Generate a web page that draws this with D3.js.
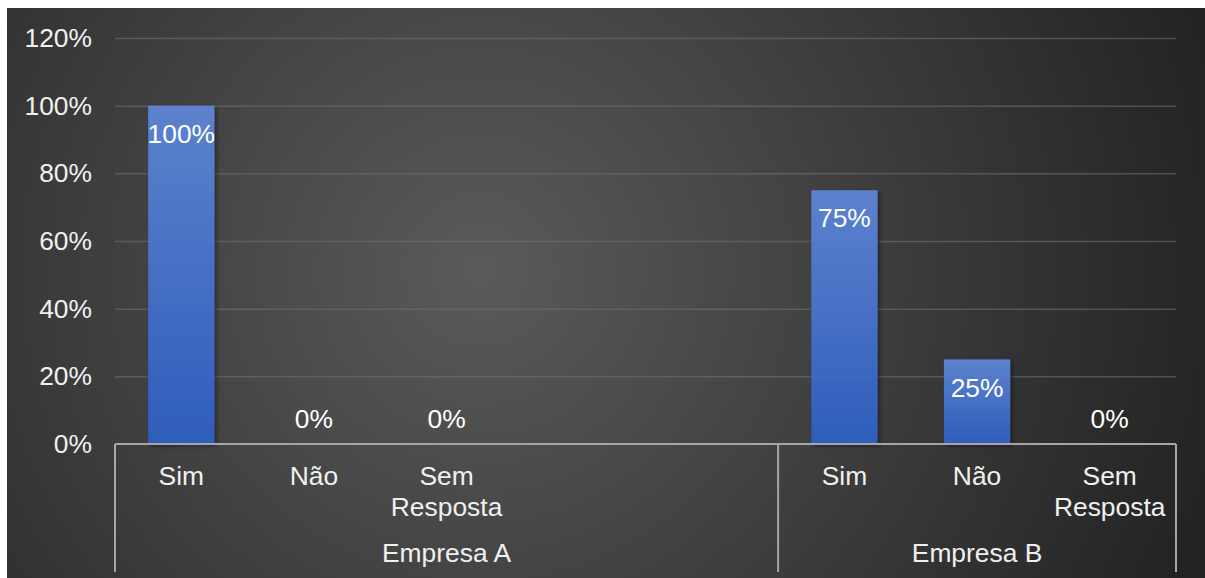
<!DOCTYPE html>
<html>
<head>
<meta charset="utf-8">
<script src="https://cdn.jsdelivr.net/npm/d3@7"></script>
<style>
    body { margin: 0; background: #ffffff; }
    svg { display: block; font-family: "Liberation Sans", Arial, sans-serif; }
</style>
</head>
<body>
<div id="chart"></div>
<script>
// categories along the x axis (two blank slots close out Empresa A)
const categories = ["Sim", "Não", "Sem Resposta", "", "", "Sim", "Não", "Sem Resposta"];
const groups = ["Empresa A", "Empresa B"];
const groupSizes = [5, 3];
const values = [1.00, 0.00, 0.00, null, null, 0.75, 0.25, 0.00];
const yTicks = [0, 0.2, 0.4, 0.6, 0.8, 1.0, 1.2];

const W = 1205, H = 578;
const plot = {left: 115, right: 1176, top: 38, bottom: 444};
const fontSize = 26.4;

let svg = d3.select("#chart").append("svg")
    .attr("width", W)
    .attr("height", H);

let defs = svg.append("defs");

// dark radial background
let bg = defs.append("radialGradient")
    .attr("id", "bg")
    .attr("gradientUnits", "userSpaceOnUse")
    .attr("cx", 480).attr("cy", 270).attr("r", 760);
bg.append("stop").attr("offset", "0%").attr("stop-color", "#5a5a5a");
bg.append("stop").attr("offset", "100%").attr("stop-color", "#232323");

// bar fill, light at the top
let barGrad = defs.append("linearGradient")
    .attr("id", "barGrad")
    .attr("x1", 0).attr("y1", 0).attr("x2", 0).attr("y2", 1);
barGrad.append("stop").attr("offset", "0%").attr("stop-color", "#5d82cd");
barGrad.append("stop").attr("offset", "100%").attr("stop-color", "#2e5dbb");

let shadow = defs.append("filter").attr("id", "shadow")
    .attr("x", "-20%").attr("y", "-20%").attr("width", "150%").attr("height", "150%");
shadow.append("feDropShadow")
    .attr("dx", 2).attr("dy", 2).attr("stdDeviation", 2)
    .attr("flood-color", "#000").attr("flood-opacity", 0.45);

svg.append("rect")
    .attr("x", 7).attr("y", 8)
    .attr("width", W - 7).attr("height", H - 8)
    .attr("fill", "url(#bg)");

// scales
let x = d3.scaleBand()
    .domain(d3.range(categories.length))
    .range([plot.left, plot.right])
    .paddingInner(0.5)
    .paddingOuter(0.25);

let y = d3.scaleLinear()
    .domain([0, 1.2])
    .range([plot.bottom, plot.top]);

let pct = d3.format(".0%");

// gridlines
let grid = svg.append("g")
    .attr("class", "grid")
    .attr("transform", `translate(${plot.left},0)`)
    .call(d3.axisLeft(y).tickValues(yTicks.slice(1)).tickSize(-(plot.right - plot.left)).tickFormat(""));
grid.select(".domain").remove();
grid.selectAll("line")
    .attr("stroke", "#727272")
    .attr("stroke-opacity", 0.55)
    .attr("stroke-width", 1.5);

// y axis labels
let yAxis = svg.append("g")
    .attr("class", "y-axis")
    .attr("transform", `translate(${plot.left - 23},0)`)
    .call(d3.axisLeft(y).tickValues(yTicks).tickSize(0).tickPadding(0).tickFormat(pct));
yAxis.select(".domain").remove();
yAxis.selectAll("text")
    .attr("fill", "#f0f0f0")
    .attr("font-size", fontSize)
    .attr("font-family", "Liberation Sans, Arial, sans-serif");

// bars
let data = values.map((v, i) => ({i: i, v: v})).filter(d => d.v !== null);

svg.selectAll(".bar")
    .data(data.filter(d => d.v > 0))
    .enter().append("rect")
    .attr("class", "bar")
    .attr("x", d => x(d.i))
    .attr("y", d => y(d.v))
    .attr("width", x.bandwidth())
    .attr("height", d => y(0) - y(d.v))
    .attr("fill", "url(#barGrad)")
    .attr("filter", "url(#shadow)");

// data labels
svg.selectAll(".label")
    .data(data)
    .enter().append("text")
    .attr("class", "label")
    .attr("x", d => x(d.i) + x.bandwidth() / 2)
    .attr("y", d => d.v > 0 ? y(d.v) + 28 : y(0) - 25)
    .attr("dy", "0.35em")
    .attr("text-anchor", "middle")
    .attr("fill", "#ffffff")
    .attr("font-size", fontSize)
    .text(d => pct(d.v));

// x axis line
svg.append("line")
    .attr("x1", plot.left).attr("x2", plot.right)
    .attr("y1", y(0)).attr("y2", y(0))
    .attr("stroke", "#a6a6a6")
    .attr("stroke-width", 2);

// category labels (wrapped)
let catLabels = svg.selectAll(".cat")
    .data(categories.map((c, i) => ({c: c, i: i})).filter(d => d.c !== ""))
    .enter().append("text")
    .attr("class", "cat")
    .attr("text-anchor", "middle")
    .attr("fill", "#f0f0f0")
    .attr("font-size", fontSize);
catLabels.each(function(d) {
    let words = d.c.split(" ");
    let cx = x(d.i) + x.bandwidth() / 2;
    words.forEach((w, k) => {
        d3.select(this).append("tspan")
            .attr("x", cx)
            .attr("y", 476 + k * 31)
            .attr("dy", "0.35em")
            .text(w);
    });
});

// group separators and labels
let step = x.step();
let bounds = [plot.left];
groupSizes.forEach(n => bounds.push(bounds[bounds.length - 1] + n * step));

svg.selectAll(".sep")
    .data(bounds)
    .enter().append("line")
    .attr("class", "sep")
    .attr("x1", d => d).attr("x2", d => d)
    .attr("y1", y(0)).attr("y2", 572)
    .attr("stroke", "#a6a6a6")
    .attr("stroke-width", 2);

svg.selectAll(".group")
    .data(groups)
    .enter().append("text")
    .attr("class", "group")
    .attr("x", (d, i) => (bounds[i] + bounds[i + 1]) / 2)
    .attr("y", 553)
    .attr("dy", "0.35em")
    .attr("text-anchor", "middle")
    .attr("fill", "#f0f0f0")
    .attr("font-size", fontSize)
    .text(d => d);
</script>
</body>
</html>
